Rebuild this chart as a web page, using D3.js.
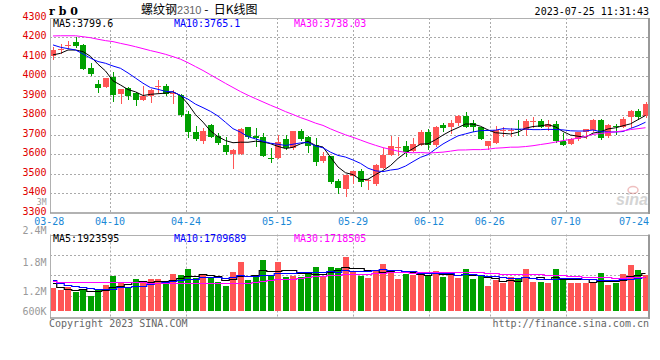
<!DOCTYPE html>
<html><head><meta charset="utf-8">
<script src="https://cdn.jsdelivr.net/npm/d3@7"></script>
<style>body{margin:0;background:#fff}svg{display:block}</style>
</head><body>
<svg id="c" width="660" height="360"></svg>
<script>
// ---------- data ----------
const dates = ["03-28","03-29","03-30","03-31","04-03","04-04","04-06","04-07","04-10","04-11","04-12","04-13","04-14","04-17","04-18","04-19","04-20","04-21","04-24","04-25","04-26","04-27","04-28","05-04","05-05","05-08","05-09","05-10","05-11","05-12","05-15","05-16","05-17","05-18","05-19","05-22","05-23","05-24","05-25","05-26","05-29","05-30","05-31","06-01","06-02","06-05","06-06","06-07","06-08","06-09","06-12","06-13","06-14","06-15","06-16","06-19","06-20","06-21","06-26","06-27","06-28","06-29","06-30","07-03","07-04","07-05","07-06","07-07","07-10","07-11","07-12","07-13","07-14","07-17","07-18","07-19","07-20","07-21","07-24","07-25"];
const openP = [4106,4138,4158,4175,4160,4042,3962,3948,3999,3909,3939,3917,3880,3897,3943,3951,3910,3905,3808,3715,3667,3749,3692,3650,3604,3602,3739,3692,3689,3580,3584,3680,3632,3718,3689,3650,3564,3590,3462,3423,3491,3513,3463,3450,3533,3598,3636,3644,3620,3650,3713,3646,3752,3743,3761,3798,3761,3739,3641,3661,3724,3718,3728,3723,3768,3769,3740,3757,3670,3655,3679,3713,3723,3777,3692,3745,3743,3791,3824,3798];
const highP = [4149,4165,4180,4200,4166,4067,3982,3992,4021,3936,3944,3922,3953,3933,3982,3961,3931,3910,3820,3747,3735,3757,3710,3690,3626,3734,3741,3734,3709,3635,3700,3700,3720,3730,3692,3684,3615,3593,3476,3495,3516,3525,3473,3549,3632,3692,3687,3667,3684,3726,3730,3747,3760,3777,3803,3815,3774,3743,3667,3747,3743,3735,3777,3781,3794,3783,3774,3772,3709,3682,3715,3732,3781,3784,3755,3757,3794,3826,3832,3871];
const lowP = [4088,4120,4145,4150,4038,4008,3922,3946,3876,3866,3885,3851,3878,3870,3922,3905,3866,3798,3689,3675,3658,3689,3655,3604,3533,3600,3685,3641,3590,3562,3581,3629,3629,3675,3612,3547,3562,3453,3403,3386,3454,3440,3423,3442,3530,3596,3598,3590,3618,3648,3629,3644,3718,3709,3752,3740,3718,3678,3629,3658,3695,3692,3701,3701,3743,3740,3726,3664,3646,3653,3675,3684,3721,3678,3689,3706,3740,3743,3781,3791];
const closeP = [4135,4142,4162,4155,4040,4014,3939,3990,3902,3934,3897,3880,3897,3931,3951,3910,3915,3803,3713,3679,3718,3689,3658,3611,3624,3732,3687,3685,3593,3578,3663,3632,3718,3680,3641,3561,3590,3459,3428,3493,3513,3459,3471,3547,3598,3641,3640,3615,3655,3713,3650,3743,3735,3761,3798,3743,3740,3680,3667,3726,3727,3725,3724,3769,3770,3743,3757,3667,3650,3680,3713,3730,3774,3684,3752,3743,3781,3824,3791,3859];
const volume = [1195000,1077000,1247000,975000,1129000,785000,1077000,1334000,1796000,1503000,1247000,1642000,1452000,1642000,1642000,1421000,1898000,1847000,2155000,1678000,1847000,1678000,1503000,1283000,2016000,2529000,1591000,1760000,2617000,1847000,2529000,1760000,1796000,1760000,2016000,2273000,1760000,2273000,2222000,2786000,2016000,1811000,1709000,2104000,2411000,2104000,1642000,1883000,1847000,2016000,1847000,2068000,1760000,1847000,1709000,2155000,1642000,1811000,1283000,1591000,1452000,1760000,1678000,2155000,1503000,1503000,1452000,2155000,1591000,1452000,1452000,1452000,1452000,1965000,1334000,1421000,1898000,2360000,2104000,1847000];
// moving-average values before enough history exists
const ma5Head = [4110,4118,4135,4135];
const ma10Head = [4161,4149,4142,4135,4115,4093,4076,4067,4053];
const ma30Head = [4207,4208,4208,4208,4203,4198,4190,4183,4178,4169,4161,4152,4142,4132,4123,4113,4101,4088,4070,4050,4030,4008,3986,3964,3943,3922,3903,3886,3869];
const vma5Head = [1421000,1247000,1154000,1077000];
const vma10Head = [1591000,1437000,1334000,1257000,1206000,1165000,1129000,1113000,1129000];
const vma30Head = [1539000,1473000,1473000,1473000,1473000,1473000,1473000,1473000,1473000,1473000,1473000,1473000,1473000,1462000,1462000,1462000,1462000,1421000,1421000,1421000,1421000,1421000,1421000,1421000,1421000,1421000,1450000,1488000,1539000];
const priceTicks = [4300,4200,4100,4000,3900,3800,3700,3600,3500,3400,3300];
const dateTicks = ["03-28","04-10","04-24","05-15","05-29","06-12","06-26","07-10","07-24"];
const volTickLabels = ["2.4M","1.8M","1.2M","600K"];
const volTickValues = [2400000,1800000,1200000,600000];
const maNames = ["MA5:","MA10:","MA30:"];
const maColors = ["#000000","#0000ff","#ff00ff"];
const priceLegendValues = ["3799.6","3765.1","3738.03"];
const volLegendValues = ["1923595","1709689","1718505"];

// ---------- setup ----------
const svg = d3.select("#c");
const MONO = "'DejaVu Sans Mono', monospace";
const UP = "#ff5555", DOWN = "#00a000";
const L = 49.25, R = 649.25;
const mainTop = 18, mainBot = 213;
const volTop = 234.5, volBot = 318, volBase = 311;

const x = d3.scaleBand().domain(dates).range([L, R]).padding(0);
const xg = d3.scaleLinear().domain([0, dates.length - 1]).range([L, R]);
const y = d3.scaleLinear().domain([3300, 4300]).range([213, 17.8]);
const yv = d3.scaleLinear().domain([0, 3935000]).range([volBase, 234.3]);
const yvLab = d3.scaleLinear().domain(volTickValues).range([234, 265.5, 295, 315]);

function ma(arr, n, head) {
  return arr.map((_, i) => i < head.length ? head[i] : d3.mean(arr.slice(i - n + 1, i + 1)));
}
const data = dates.map((d, i) => ({d, i, o: openP[i], h: highP[i], l: lowP[i], c: closeP[i], v: volume[i]}));
const pMA = [ma(closeP, 5, ma5Head), ma(closeP, 10, ma10Head), ma(closeP, 30, ma30Head)];
const vMA = [ma(volume, 5, vma5Head), ma(volume, 10, vma10Head), ma(volume, 30, vma30Head)];

const grid = "#aaaaaa";
// ---------- grids ----------
const g = svg.append("g");
g.selectAll(".hg").data(priceTicks.filter(t => t > 3300 && t < 4300)).join("line")
  .attr("x1", 50).attr("x2", 649).attr("y1", d => Math.round(y(d)) + 0.5).attr("y2", d => Math.round(y(d)) + 0.5)
  .attr("stroke", grid).attr("stroke-dasharray", "2,2");
const tickIdx = dateTicks.map(t => dates.indexOf(t));
const vIdx = tickIdx.filter(i => i > 0 && xg(i) < 640);
[[mainTop, mainBot], [volTop, volBot]].forEach(([a, b]) => {
  g.selectAll(null).data(vIdx).join("line")
    .attr("x1", i => Math.round(xg(i)) + 0.5).attr("x2", i => Math.round(xg(i)) + 0.5)
    .attr("y1", a).attr("y2", b).attr("stroke", grid).attr("stroke-dasharray", "2,2");
});
g.selectAll(null).data([1, 2, 3]).join("line")
  .attr("x1", 50).attr("x2", 649)
  .attr("y1", k => Math.round(volTop + k * 20.4) + 0.5).attr("y2", k => Math.round(volTop + k * 20.4) + 0.5)
  .attr("stroke", grid).attr("stroke-dasharray", "2,2");

// watermark
const wm = svg.append("g").attr("opacity", 0.5);
wm.append("text").attr("x", 648).attr("y", 205).attr("text-anchor", "end")
  .attr("font-family", "Arial, 'Liberation Sans', sans-serif").attr("font-size", 16).attr("font-weight", "bold")
  .attr("font-style", "italic").attr("fill", "#aaaaaa").text("sina");
wm.append("ellipse").attr("cx", 633).attr("cy", 190).attr("rx", 5).attr("ry", 3.5).attr("fill", "none").attr("stroke", "#e08080").attr("stroke-width", 1.5);

// ---------- candles ----------
const bx = d => Math.round(x(d.d) + 0.75);
const cg = svg.append("g");
cg.selectAll(".wick").data(data).join("line")
  .attr("x1", d => bx(d) + 3.5).attr("x2", d => bx(d) + 3.5)
  .attr("y1", d => Math.round(y(d.h))).attr("y2", d => Math.round(y(d.l)) + 1)
  .attr("stroke", d => d.c >= d.o ? UP : DOWN).attr("stroke-width", 1);
cg.selectAll(".body").data(data).join("rect")
  .attr("x", bx).attr("width", 6)
  .attr("y", d => Math.round(y(Math.max(d.o, d.c))))
  .attr("height", d => Math.max(1, Math.round(y(Math.min(d.o, d.c))) - Math.round(y(Math.max(d.o, d.c)))))
  .attr("fill", d => d.c >= d.o ? UP : DOWN);

const cx = i => x(dates[i]) + x.bandwidth() / 2;
pMA.forEach((arr, k) => {
  svg.append("path").datum(arr)
    .attr("d", d3.line().x((v, i) => cx(i)).y(v => y(v)))
    .attr("fill", "none").attr("stroke", maColors[k]).attr("stroke-width", 1);
});

// ---------- volume ----------
svg.append("g").selectAll("rect").data(data).join("rect")
  .attr("x", bx).attr("width", 6)
  .attr("y", d => Math.round(yv(d.v))).attr("height", d => volBase - Math.round(yv(d.v)))
  .attr("fill", d => d.c >= d.o ? UP : DOWN);
vMA.forEach((arr, k) => {
  svg.append("path").datum(arr)
    .attr("d", d3.line().curve(d3.curveStep).x((v, i) => cx(i)).y(v => Math.round(yv(v)) + 0.5))
    .attr("fill", "none").attr("stroke", maColors[k]).attr("stroke-width", 1.2);
});

// ---------- borders ----------
[[mainTop, mainBot], [volTop, volBot]].forEach(([a, b]) => {
  svg.append("line").attr("x1", 50).attr("x2", 649).attr("y1", Math.round(a) + 0.5).attr("y2", Math.round(a) + 0.5).attr("stroke", "#b0b0b0");
  svg.append("line").attr("x1", 50.5).attr("x2", 50.5).attr("y1", a).attr("y2", b).attr("stroke", "#b0b0b0");
  svg.append("line").attr("x1", 649).attr("x2", 649).attr("y1", a).attr("y2", b + 1).attr("stroke", "#999").attr("stroke-width", 2);
  svg.append("line").attr("x1", 50).attr("x2", 650).attr("y1", b).attr("y2", b).attr("stroke", "#999").attr("stroke-width", 1.5);
});

// ---------- axis labels ----------
svg.append("g").selectAll("text").data(priceTicks).join("text")
  .attr("x", 46.5).attr("y", d => y(d) + 2).attr("text-anchor", "end")
  .attr("font-family", MONO).attr("font-size", 10).attr("fill", "#e00000").text(d => d);
svg.append("text").attr("x", 46.5).attr("y", 204.5).attr("text-anchor", "end")
  .attr("font-family", MONO).attr("font-size", 8).attr("fill", "#999").text("3M");
svg.append("g").selectAll("text").data(dateTicks).join("text")
  .attr("x", (t, j) => Math.min(xg(tickIdx[j]), 649 - 15))
  .attr("y", 225).attr("text-anchor", "middle")
  .attr("font-family", MONO).attr("font-size", 10).attr("fill", "#1a88d6").text(t => t);
svg.append("g").selectAll("text").data(volTickLabels).join("text")
  .attr("x", 46.5).attr("y", (t, j) => yvLab(volTickValues[j])).attr("text-anchor", "end")
  .attr("font-family", MONO).attr("font-size", 10).attr("fill", "#999").text(t => t);

// ---------- legends ----------
const legX = [53, 174, 294];
maNames.forEach((n, k) => {
  svg.append("text").attr("x", legX[k]).attr("y", 27).attr("font-family", MONO).attr("font-size", 10)
    .attr("fill", maColors[k]).text(n + priceLegendValues[k]);
  svg.append("text").attr("x", legX[k]).attr("y", 242).attr("font-family", MONO).attr("font-size", 10)
    .attr("fill", maColors[k]).text(n + volLegendValues[k]);
});

// ---------- titles ----------
svg.append("text").attr("x", 49).attr("y", 15).attr("font-family", "'DejaVu Serif', serif")
  .attr("font-size", 11).attr("font-weight", "bold").attr("fill", "#000").text("r b 0");
const tt = svg.append("text").attr("x", 141).attr("y", 13.5)
  .attr("font-family", "'Noto Sans CJK SC', sans-serif").attr("font-size", 12).attr("fill", "#000");
tt.append("tspan").text("螺纹钢");
tt.append("tspan").attr("fill", "#666").attr("font-family", "Arial, 'Liberation Sans', sans-serif").attr("font-size", 11).text("2310");
tt.append("tspan").text(" - \u00a0日K线图");
svg.append("text").attr("x", 649).attr("y", 15).attr("text-anchor", "end")
  .attr("font-family", MONO).attr("font-size", 10).attr("fill", "#000").text("2023-07-25 11:31:43");
svg.append("text").attr("x", 49).attr("y", 327)
  .attr("font-family", MONO).attr("font-size", 10).attr("fill", "#666").text("Copyright 2023 SINA.COM");
svg.append("text").attr("x", 649).attr("y", 327).attr("text-anchor", "end")
  .attr("font-family", MONO).attr("font-size", 10).attr("fill", "#666").text("http://finance.sina.com.cn");
</script>
</body></html>
